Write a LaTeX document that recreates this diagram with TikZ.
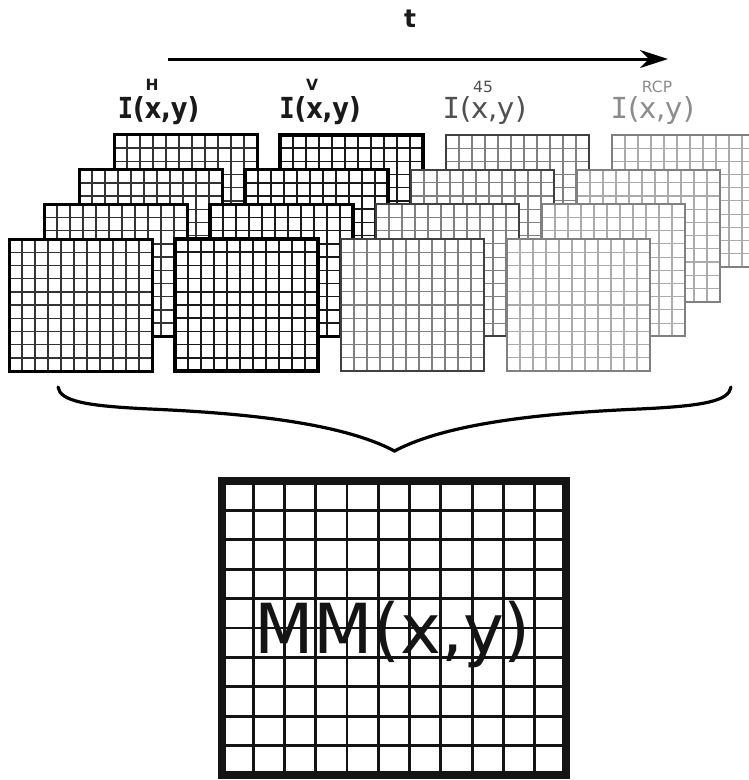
\documentclass[tikz,border=0pt]{standalone}
\usepackage{fontspec}
\setmainfont{DejaVu Sans}
\newfontfamily\monoI{DejaVu Sans Mono}
\newfontfamily\boldlab{DejaVu Sans}[FakeStretch=0.88]
\newfontfamily\boldmonoI{DejaVu Sans Mono}[FakeStretch=0.88]
\usetikzlibrary{arrows.meta}
\definecolor{labA}{HTML}{1A1A1A}
\definecolor{lab45}{HTML}{505050}
\definecolor{labR}{HTML}{8C8C8C}
\tikzset{
  bH/.style={draw=black, line width=3pt},
  lH/.style={draw=black!80, line width=1.4pt},
  bV/.style={draw=black, line width=3.4pt},
  lV/.style={draw=black!90, line width=1.5pt},
  b45/.style={draw=black!75, line width=1.9pt},
  l45/.style={draw=black!50, line width=1.1pt},
  bR/.style={draw=black!50, line width=2pt},
  lR/.style={draw=black!33, line width=1.1pt},
  biglab/.style={anchor=base, font=\fontsize{29}{34}\selectfont},
  suplab/.style={anchor=base, font=\fontsize{15.5}{18}\selectfont},
}
\newcommand{\gridlayer}[4]{%
  \fill[white] ({#1},{#2}) rectangle ++(143,132);
  \foreach \i in {1,...,10} \draw[#4] ({#1+\i*13},{#2}) -- ++(0,132);
  \foreach \j in {1,...,9} \draw[#4] ({#1},{#2+\j*13.2}) -- ++(143,0);
  \draw[#3] ({#1},{#2}) rectangle ++(143,132);
}
\begin{document}
\begin{tikzpicture}[x=1pt,y=-1pt]
\useasboundingbox (0,0) rectangle (749,780);
\clip (0,0) rectangle (749,780);
\fill[white] (0,0) rectangle (749,780);

% time arrow
\coordinate (tstart) at (168,59);
\coordinate (tend) at (668,59);
\draw[line width=3pt, -{Stealth[length=28pt,width=18pt,inset=9pt]}] (tstart) -- (tend);
\node[anchor=base, font=\bfseries\fontsize{25}{30}\selectfont, text=labA] (t) at (410,27) {t};

% labels
\node[biglab, text=labA] (labH) at (158.5,118) {\boldlab\bfseries{\boldmonoI\bfseries I}(x,y)};
\node[biglab, text=labA] (labV) at (320,118) {\boldlab\bfseries{\boldmonoI\bfseries I}(x,y)};
\node[biglab, text=lab45] (lab45) at (484.5,118) {{\monoI I}(x,y)};
\node[biglab, text=labR] (labR) at (652.5,118) {{\monoI I}(x,y)};
\node[suplab, text=labA, font=\bfseries\fontsize{15.5}{18}\selectfont] (supH) at (152,90) {H};
\node[suplab, text=labA, font=\bfseries\fontsize{15.5}{18}\selectfont] (supV) at (312,90) {V};
\node[suplab, text=lab45] (sup45) at (483,92) {45};
\node[suplab, text=labR] (supR) at (657,92) {RCP};

% stacks of frames
\foreach \g/\bs/\ls in {0/bH/lH, 1/bV/lV, 2/b45/l45, 3/bR/lR} {
  \foreach \k in {3,2,1,0} {
    \gridlayer{9+166*\g+35*\k}{239-34.7*\k}{\bs}{\ls}
  }
}

% brace
\coordinate (bl) at (58,387);
\coordinate (bm1) at (150,409);
\coordinate (tip) at (394.5,451);
\coordinate (bm2) at (639,409);
\coordinate (br) at (731,387);
\draw[line width=3.2pt, line cap=round, miter limit=20]
  (bl) .. controls (60,401) and (85,406) .. (bm1)
       .. controls (240,413) and (340,422) .. (tip)
       .. controls (449,422) and (549,413) .. (bm2)
       .. controls (704,406) and (729,401) .. (br);

% Mueller matrix image
\fill[white] (222,481) rectangle (566,775);
\foreach \i in {1,...,10} \draw[line width=2.8pt, black!92] ({222+\i*31.27},481) -- ++(0,294);
\foreach \j in {1,...,9} \draw[line width=2.8pt, black!92] (222,{481+\j*29.4}) -- ++(344,0);
\draw[line width=8pt, black!92] (222,481) rectangle (566,775);
\node[anchor=base, font=\fontsize{69}{80}\selectfont, text=black!92] (mm) at (392.5,653) {MM(x,y)};
\end{tikzpicture}
\end{document}
